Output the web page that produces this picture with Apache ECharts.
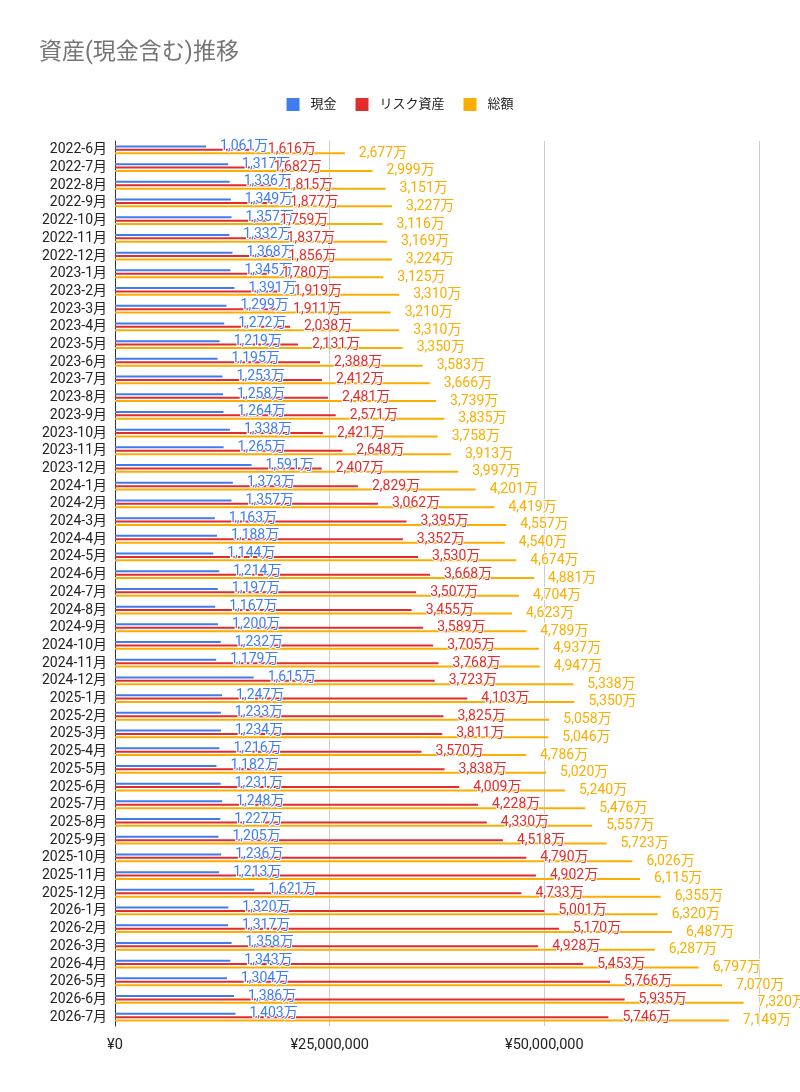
<!DOCTYPE html>
<html>
<head>
<meta charset="utf-8">
<style>
  html, body { margin: 0; padding: 0; background: #fff; }
  #chart { width: 800px; height: 1092px; }
</style>
<script src="https://cdn.jsdelivr.net/npm/echarts@6/dist/echarts.min.js"></script>
</head>
<body>
<div id="chart"></div>
<script>
// 月ごとのカテゴリ
var months = [
  '2022-6月', '2022-7月', '2022-8月', '2022-9月', '2022-10月', '2022-11月', '2022-12月',
  '2023-1月', '2023-2月', '2023-3月', '2023-4月', '2023-5月', '2023-6月', '2023-7月',
  '2023-8月', '2023-9月', '2023-10月', '2023-11月', '2023-12月',
  '2024-1月', '2024-2月', '2024-3月', '2024-4月', '2024-5月', '2024-6月', '2024-7月',
  '2024-8月', '2024-9月', '2024-10月', '2024-11月', '2024-12月',
  '2025-1月', '2025-2月', '2025-3月', '2025-4月', '2025-5月', '2025-6月', '2025-7月',
  '2025-8月', '2025-9月', '2025-10月', '2025-11月', '2025-12月',
  '2026-1月', '2026-2月', '2026-3月', '2026-4月', '2026-5月', '2026-6月', '2026-7月'
]

// 値は万円単位
var cash = [
  1061, 1317, 1336, 1349, 1357, 1332, 1368,
  1345, 1391, 1299, 1272, 1219, 1195, 1253, 1258, 1264, 1338, 1265, 1591,
  1373, 1357, 1163, 1188, 1144, 1214, 1197, 1167, 1200, 1232, 1179, 1615,
  1247, 1233, 1234, 1216, 1182, 1231, 1248, 1227, 1205, 1236, 1213, 1621,
  1320, 1317, 1358, 1343, 1304, 1386, 1403
]
var risk = [
  1616, 1682, 1815, 1877, 1759, 1837, 1856,
  1780, 1919, 1911, 2038, 2131, 2388, 2412, 2481, 2571, 2421, 2648, 2407,
  2829, 3062, 3395, 3352, 3530, 3668, 3507, 3455, 3589, 3705, 3768, 3723,
  4103, 3825, 3811, 3570, 3838, 4009, 4228, 4330, 4518, 4790, 4902, 4733,
  5001, 5170, 4928, 5453, 5766, 5935, 5746
]
var total = [
  2677, 2999, 3151, 3227, 3116, 3169, 3224,
  3125, 3310, 3210, 3310, 3350, 3583, 3666, 3739, 3835, 3758, 3913, 3997,
  4201, 4419, 4557, 4540, 4674, 4881, 4704, 4623, 4789, 4937, 4947, 5338,
  5350, 5058, 5046, 4786, 5020, 5240, 5476, 5557, 5723, 6026, 6115, 6355,
  6320, 6487, 6287, 6797, 7070, 7320, 7149
]

var xTicks = [0, 2500, 5000, 7500]

var font = 'Roboto, "Noto Sans CJK JP", sans-serif'

function barSeries(name, data, color) {
  return {
    name: name,
    type: 'bar',
    data: data,
    barWidth: 2,
    barGap: '70%',
    itemStyle: { color: color },
    label: {
      show: true,
      position: 'right',
      distance: 14,
      color: color,
      fontSize: 14,
      fontFamily: font,
      textBorderColor: '#fff',
      textBorderWidth: 2,
      formatter: function (p) {
        return p.value.toLocaleString('en-US') + '万'
      }
    }
  }
}

var myChart = echarts.init(document.getElementById('chart'))
myChart.setOption({
  animation: false,
  backgroundColor: '#fff',
  textStyle: { fontFamily: font },
  title: {
    text: '資産(現金含む)推移',
    left: 34,
    top: 37,
    textStyle: { fontSize: 23, fontWeight: 'normal', color: '#757575', fontFamily: font }
  },
  legend: {
    top: 93,
    left: 'center',
    itemWidth: 13,
    itemHeight: 13,
    itemGap: 19,
    icon: 'rect',
    textStyle: { fontSize: 13, color: '#222', padding: [0, 0, 0, 6] },
    data: ['現金', 'リスク資産', '総額']
  },
  grid: { left: 115, right: 41, top: 141, bottom: 66, containLabel: false },
  xAxis: {
    type: 'value',
    min: xTicks[0],
    max: xTicks[xTicks.length - 1],
    interval: 2500,
    axisLine: { show: false },
    axisTick: { show: false },
    splitLine: { lineStyle: { color: '#cccccc', width: 1 } },
    axisLabel: {
      margin: 12,
      fontSize: 14.5,
      color: '#222',
      formatter: function (v) {
        if (v === 7500) return ''
        return '¥' + (v * 10000).toLocaleString('en-US')
      }
    }
  },
  yAxis: {
    type: 'category',
    data: months,
    inverse: true,
    axisTick: { show: false },
    axisLine: { lineStyle: { color: '#333', width: 1 } },
    axisLabel: { fontSize: 14, color: '#222', margin: 8, interval: 0 }
  },
  series: [
    barSeries('現金', cash, '#3f7cf0'),
    barSeries('リスク資産', risk, '#e22c2c'),
    barSeries('総額', total, '#fbae00')
  ]
})
</script>
</body>
</html>
